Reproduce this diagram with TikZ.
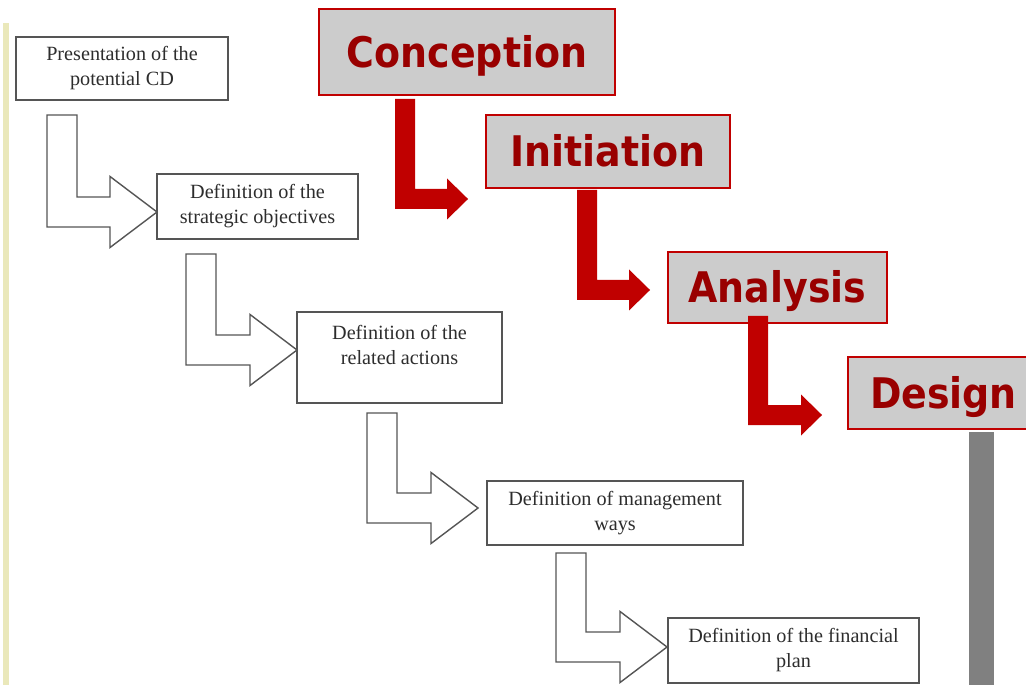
\documentclass[tikz,border=0pt]{standalone}
\usepackage{fontspec}
\setmainfont{Liberation Serif}
\newfontfamily\phasefont{DejaVu Sans Condensed}
\usepackage{tikz}
\usetikzlibrary{calc}
\definecolor{phasered}{RGB}{192,0,0}
\definecolor{phasetext}{RGB}{153,0,0}
\definecolor{phasefill}{RGB}{204,204,204}
\definecolor{boxline}{RGB}{85,85,85}
\definecolor{boxtext}{RGB}{45,45,45}
\definecolor{sidebar}{RGB}{234,232,186}
\colorlet{endbar}{black!50}

% hollow bent arrow: from, stem offset, to, tip offset
\newcommand{\hollowstep}[4]{%
  \draw[hollowflow] ($(#1.south west)+(#2)$) coordinate (s) -- ++(30,0)
    |- ($(#3.west)+(#4)+(-47,-15)$) -- ++(0,-20.5) -- ($(#3.west)+(#4)$)
    -- ++(-47,35.5) -- ++(0,-20.5) -| (s) -- cycle;}
% solid red bent arrow
\newcommand{\redstep}[4]{%
  \fill[redflow] ($(#1.south west)+(#2)$) coordinate (s) -- ++(20,0)
    |- ($(#3.west)+(#4)+(-21,-10)$) -- ++(0,-10.5) -- ($(#3.west)+(#4)$)
    -- ++(-21,20.5) -- ++(0,-10.5) -| (s) -- cycle;}

\begin{document}
\begin{tikzpicture}[x=0.02cm, y=-0.02cm,
    stepbox/.style={draw=boxline, line width=0.8pt, fill=white, align=center,
      font={\fontsize{11.5}{14.2}\selectfont}, text=boxtext, inner sep=0pt, outer sep=0pt},
    phasebox/.style={draw=phasered, line width=1.2pt, fill=phasefill,
      font={\phasefont\bfseries\fontsize{24}{28}\selectfont}, text=phasetext,
      text height=17.5pt, text depth=0pt, inner sep=0pt, outer sep=0pt},
    hollowflow/.style={draw=boxline, line width=0.8pt, fill=white},
    redflow/.style={fill=phasered}]
    \useasboundingbox (0,0) rectangle (1026,685);
    \clip (0,0) rectangle (1026,685);

    % side bars
    \fill[sidebar] (3,23) rectangle (9,685);
    \fill[endbar] (969,432) rectangle (994,685);

    % steps
    \node[stepbox, minimum width=4.24cm, minimum height=1.26cm] (present) at (122,68.5) {Presentation of the\\potential CD};
    \node[stepbox, minimum width=4.02cm, minimum height=1.3cm] (strategic) at (257.5,206.5) {Definition of the\\strategic objectives};
    \node[stepbox, minimum width=4.1cm, minimum height=1.82cm] (related) at (399.5,357.5) {Definition of the\\related actions\\~};
    \node[stepbox, minimum width=5.12cm, minimum height=1.28cm] (manage) at (615,513) {Definition of management\\ways};
    \node[stepbox, minimum width=5.02cm, minimum height=1.3cm] (finance) at (793.5,650.5) {Definition of the financial\\plan};

    \hollowstep{present}{31,15}{strategic}{0,5.5}
    \hollowstep{strategic}{29,15}{related}{0,-7.5}
    \hollowstep{related}{70,10}{manage}{-9,-5}
    \hollowstep{manage}{69,8}{finance}{-1,-3.5}

    % phases
    \node[phasebox, minimum width=5.92cm, minimum height=1.72cm] (conception) at (467,52) {Conception};
    \node[phasebox, minimum width=4.88cm, minimum height=1.46cm] (initiation) at (608,151.5) {Initiation};
    \node[phasebox, minimum width=4.38cm, minimum height=1.42cm] (analysis) at (777.5,287.5) {Analysis};
    \node[phasebox, minimum width=3.82cm, minimum height=1.44cm] (design) at (943.5,393) {Design};

    \redstep{conception}{76,4}{initiation}{-18,47.5}
    \redstep{initiation}{91,2}{analysis}{-18,2.5}
    \redstep{analysis}{80,-7}{design}{-26,22}
\end{tikzpicture}
\end{document}
